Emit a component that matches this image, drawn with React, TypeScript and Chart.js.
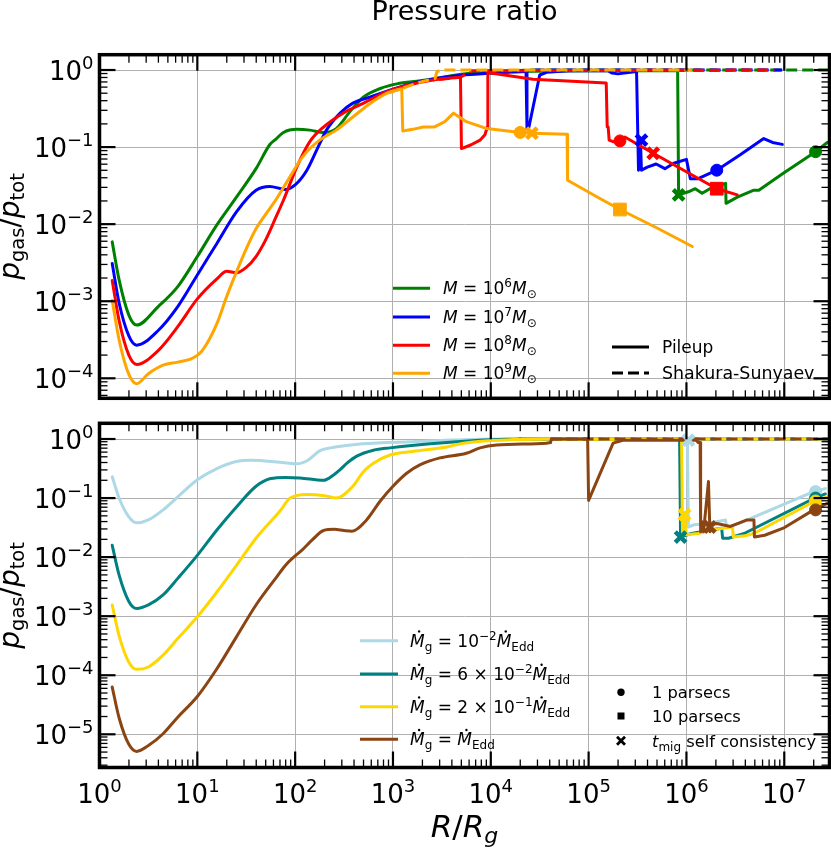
import { useEffect, useRef } from "react"
import { Chart, registerables } from "chart.js"

Chart.register(...registerables)

// every point is [log10(R/Rg), log10(pgas/ptot)]
type Pt = [number, number]

const xTickExp = [0, 1, 2, 3, 4, 5, 6, 7]
const topTickExp = [-4, -3, -2, -1, 0]
const bottomTickExp = [-5, -4, -3, -2, -1, 0]

const massExp = ["6", "7", "8", "9"]
const accretionCoef = ["", "6", "2", ""]
const accretionExp = ["−2", "−2", "−1", ""]
const styleLabels = ["Pileup", "Shakura-Sunyaev"]
const markerLabels = ["1 parsecs", "10 parsecs", " self consistency"]

// ---- top panel: M = 1e6 .. 1e9 Msun ----
const m6Inner: Pt[] = [[0.13, -2.23], [0.2, -2.72], [0.3, -3.18], [0.38, -3.31], [0.6, -3.07], [0.8, -2.81], [1.0, -2.42], [1.2, -2.01], [1.4, -1.65], [1.6, -1.28], [1.74, -0.97], [1.8, -0.9], [1.88, -0.81], [2.02, -0.77], [2.15, -0.78], [2.29, -0.81], [2.42, -0.76], [2.56, -0.54], [2.7, -0.35], [2.87, -0.24], [3.04, -0.18], [3.28, -0.14], [3.75, -0.05], [4.2, -0.02]]
const m6Outer: Pt[] = [[4.2, -0.02], [5.0, -0.01], [5.91, -0.01], [5.92, -1.62], [6.02, -1.58], [6.09, -1.54], [6.16, -1.6], [6.24, -1.54], [6.4, -1.47], [6.405, -1.73], [6.52, -1.65], [6.69, -1.56], [6.74, -1.56], [6.99, -1.34], [7.32, -1.06], [7.44, -0.94]]
const m6SS: Pt[] = [[3.75, -0.05], [4.2, -0.01], [4.4, 0], [7.46, 0]]
const m6Circle: Pt[] = [[7.32, -1.06]]
const m6Cross: Pt[] = [[5.92, -1.62]]

const m7Inner: Pt[] = [[0.13, -2.51], [0.2, -3.02], [0.3, -3.45], [0.38, -3.57], [0.6, -3.38], [0.8, -3.07], [1.0, -2.66], [1.2, -2.25], [1.4, -1.84], [1.6, -1.56], [1.74, -1.51], [1.9, -1.55], [2.0, -1.49], [2.12, -1.3], [2.22, -1.04], [2.32, -0.78], [2.46, -0.56], [2.59, -0.43], [2.77, -0.35], [3.0, -0.25], [3.28, -0.15], [3.6, -0.08], [4.0, -0.04], [4.36, -0.02]]
const m7Outer: Pt[] = [[4.36, -0.02], [4.37, -0.76], [4.39, -0.74], [4.5, -0.065], [4.57, -0.03], [4.8, -0.01], [5.2, -0.01], [5.24, -0.04], [5.3, -0.05], [5.49, -0.02], [5.51, -1.3], [5.53, -0.92], [5.54, -1.3], [5.6, -1.26], [5.69, -1.22], [5.78, -1.28], [5.87, -1.21], [6.0, -1.16], [6.04, -1.41], [6.12, -1.41], [6.31, -1.3], [6.55, -1.1], [6.79, -0.89], [6.88, -0.94], [6.98, -0.965]]
const m7SS: Pt[] = [[4.0, -0.04], [4.3, -0.01], [4.5, 0], [6.98, 0]]
const m7Circle: Pt[] = [[6.31, -1.3]]
const m7Cross: Pt[] = [[5.54, -0.91]]

const m8Inner: Pt[] = [[0.13, -2.73], [0.2, -3.25], [0.3, -3.7], [0.38, -3.82], [0.6, -3.64], [0.8, -3.33], [1.0, -2.97], [1.2, -2.71], [1.3, -2.61], [1.4, -2.63], [1.5, -2.56], [1.6, -2.42], [1.7, -2.2], [1.8, -1.92], [1.88, -1.69], [2.02, -1.25], [2.15, -0.93], [2.29, -0.74], [2.49, -0.56], [2.7, -0.43], [2.9, -0.3], [3.11, -0.21], [3.41, -0.13], [3.69, -0.095]]
const m8Outer: Pt[] = [[3.69, -0.095], [3.7, -1.02], [3.8, -0.97], [3.89, -0.91], [3.94, -0.84], [3.965, -0.74], [3.97, -0.01], [4.0, -0.04], [4.43, -0.12], [5.18, -0.17], [5.19, -0.74], [5.2, -0.74], [5.21, -0.91], [5.25, -0.93], [5.32, -0.92], [5.37, -0.87], [5.66, -1.08], [6.31, -1.54], [6.52, -1.62]]
const m8SS: Pt[] = [[3.41, -0.13], [3.69, -0.095], [3.8, -0.01], [6.9, 0]]
const m8Circle: Pt[] = [[5.32, -0.92]]
const m8Square: Pt[] = [[6.31, -1.54]]
const m8Cross: Pt[] = [[5.66, -1.08]]

const m9Inner: Pt[] = [[0.13, -2.99], [0.2, -3.5], [0.3, -3.95], [0.38, -4.07], [0.5, -3.94], [0.65, -3.83], [0.8, -3.79], [0.95, -3.74], [1.05, -3.64], [1.2, -3.29], [1.3, -2.94], [1.4, -2.62], [1.5, -2.32], [1.6, -2.06], [1.7, -1.87], [1.81, -1.67], [1.95, -1.38], [2.08, -1.12], [2.25, -0.91], [2.42, -0.78], [2.59, -0.61], [2.77, -0.43], [2.94, -0.3], [3.07, -0.25], [3.09, -0.245]]
const m9Outer: Pt[] = [[3.09, -0.245], [3.1, -0.79], [3.2, -0.77], [3.31, -0.74], [3.42, -0.74], [3.53, -0.67], [3.62, -0.56], [3.75, -0.67], [3.96, -0.76], [4.3, -0.81], [4.42, -0.82], [4.78, -0.835], [4.785, -1.43], [5.12, -1.67], [5.32, -1.81], [5.7, -2.05], [6.06, -2.29]]
const m9SS: Pt[] = [[2.94, -0.3], [3.07, -0.25], [3.2, -0.19], [3.3, -0.15], [3.43, -0.11], [3.45, -0.02], [3.5, 0], [6.06, 0]]
const m9Circle: Pt[] = [[4.3, -0.81]]
const m9Square: Pt[] = [[5.32, -1.81]]
const m9Cross: Pt[] = [[4.42, -0.82]]

// ---- bottom panel: accretion rates ----
const a1Inner: Pt[] = [[0.13, -0.64], [0.2, -1.0], [0.3, -1.32], [0.38, -1.42], [0.5, -1.37], [0.65, -1.2], [0.8, -0.98], [1.0, -0.69], [1.2, -0.5], [1.4, -0.38], [1.55, -0.36], [1.845, -0.395], [2.02, -0.42], [2.13, -0.36], [2.25, -0.2], [2.36, -0.15], [2.69, -0.08], [3.2, -0.045], [3.89, -0.005], [4.3, 0]]
const a1Outer: Pt[] = [[4.3, 0], [6.01, 0], [6.02, -1.49], [6.08, -1.45], [6.21, -1.43], [6.4, -1.37], [6.41, -1.5], [6.55, -1.42], [7.3, -0.89], [7.42, -0.84]]
const a1Circle: Pt[] = [[7.32, -0.89]]
const a1Cross: Pt[] = [[6.02, -0.02]]

const a2Inner: Pt[] = [[0.13, -1.8], [0.2, -2.3], [0.3, -2.75], [0.38, -2.87], [0.5, -2.81], [0.65, -2.64], [0.8, -2.36], [1.0, -1.97], [1.2, -1.54], [1.4, -1.15], [1.6, -0.8], [1.75, -0.67], [1.9, -0.65], [2.05, -0.66], [2.29, -0.7], [2.4, -0.6], [2.46, -0.52], [2.53, -0.41], [2.63, -0.29], [2.8, -0.19], [2.97, -0.15], [3.38, -0.08], [3.89, -0.02], [4.3, 0]]
const a2Outer: Pt[] = [[4.3, 0], [5.93, -0.01], [5.94, -1.66], [6.05, -1.6], [6.15, -1.57], [6.24, -1.54], [6.36, -1.51], [6.37, -1.68], [6.43, -1.68], [6.59, -1.6], [7.3, -1.01], [7.42, -0.93]]
const a2Circle: Pt[] = [[7.32, -1.0]]
const a2Cross: Pt[] = [[5.94, -1.66]]

const a3Inner: Pt[] = [[0.13, -2.81], [0.2, -3.33], [0.3, -3.78], [0.38, -3.9], [0.5, -3.86], [0.65, -3.66], [0.8, -3.38], [1.0, -3.01], [1.2, -2.59], [1.4, -2.14], [1.6, -1.68], [1.845, -1.22], [1.95, -1.0], [2.12, -0.94], [2.3, -0.96], [2.42, -1.0], [2.59, -0.8], [2.7, -0.55], [2.8, -0.41], [2.97, -0.27], [3.2, -0.21], [3.55, -0.135], [3.72, -0.07], [4.23, -0.01], [4.6, 0]]
const a3Outer: Pt[] = [[4.6, 0], [5.95, -0.01], [5.96, -1.62], [5.98, -1.28], [6.0, -1.62], [6.12, -1.6], [6.24, -1.54], [6.47, -1.49], [6.48, -1.66], [6.6, -1.64], [6.69, -1.6], [7.3, -1.06], [7.44, -0.98]]
const a3Circle: Pt[] = [[7.32, -1.05]]
const a3Cross: Pt[] = [[5.98, -1.28]]

const a4Inner: Pt[] = [[0.13, -4.2], [0.2, -4.72], [0.3, -5.17], [0.38, -5.29], [0.5, -5.19], [0.65, -4.99], [0.8, -4.71], [1.0, -4.36], [1.2, -3.89], [1.4, -3.35], [1.6, -2.81], [1.8, -2.36], [1.9, -2.14], [2.0, -1.98], [2.07, -1.88], [2.18, -1.7], [2.29, -1.55], [2.4, -1.53], [2.5, -1.55], [2.58, -1.56], [2.73, -1.37], [2.87, -1.05], [3.0, -0.8], [3.14, -0.58], [3.28, -0.435], [3.48, -0.32], [3.75, -0.24], [3.89, -0.15], [4.06, -0.1], [4.57, -0.07], [4.61, -0.06]]
const a4Outer: Pt[] = [[4.61, -0.06], [4.62, 0], [4.99, 0], [5.0, -1.04], [5.25, -0.07], [5.35, -0.02], [6.1, -0.02], [6.12, -0.06], [6.14, -0.06], [6.145, -1.57], [6.16, -1.4], [6.175, -1.57], [6.225, -0.72], [6.24, -1.57], [6.26, -1.45], [6.31, -1.43], [6.45, -1.48], [6.62, -1.37], [6.69, -1.37], [6.695, -1.66], [6.8, -1.63], [6.99, -1.51], [7.3, -1.2], [7.44, -1.09]]
const a4Circle: Pt[] = [[7.32, -1.2]]
const a4Cross: Pt[] = [[6.24, -1.49]]

const ssBottom: Pt[] = [[4.6, 0], [7.46, 0]]

const X_MIN = 1
const X_MAX = 2.9e7
const FONT = '"DejaVu Sans", sans-serif'
const GRID = "#b0b0b0"

interface Series {
  color: string
  inner: Pt[]
  outer: Pt[]
  ss: Pt[]
  circle: Pt[]
  square: Pt[]
  cross: Pt[]
}

const massSeries: Series[] = [
  { color: "#008000", inner: m6Inner, outer: m6Outer, ss: m6SS, circle: m6Circle, square: [], cross: m6Cross },
  { color: "#0000ff", inner: m7Inner, outer: m7Outer, ss: m7SS, circle: m7Circle, square: [], cross: m7Cross },
  { color: "#ff0000", inner: m8Inner, outer: m8Outer, ss: m8SS, circle: m8Circle, square: m8Square, cross: m8Cross },
  { color: "#ffa500", inner: m9Inner, outer: m9Outer, ss: m9SS, circle: m9Circle, square: m9Square, cross: m9Cross },
]

const rateSeries: Series[] = [
  { color: "#add8e6", inner: a1Inner, outer: a1Outer, ss: ssBottom, circle: a1Circle, square: [], cross: a1Cross },
  { color: "#008080", inner: a2Inner, outer: a2Outer, ss: ssBottom, circle: a2Circle, square: [], cross: a2Cross },
  { color: "#ffd700", inner: a3Inner, outer: a3Outer, ss: ssBottom, circle: a3Circle, square: [], cross: a3Cross },
  { color: "#8b4513", inner: a4Inner, outer: a4Outer, ss: ssBottom, circle: a4Circle, square: [], cross: a4Cross },
]

const toXY = (pts: Pt[]) => pts.map(([lr, lp]) => ({ x: 10 ** lr, y: 10 ** lp }))

function buildDatasets(series: Series[]) {
  const lines: any[] = []
  const marks: any[] = []
  series.forEach((s, i) => {
    const base = {
      borderColor: s.color,
      backgroundColor: s.color,
      borderWidth: 3,
      pointRadius: 0,
      fill: false,
      borderJoinStyle: "round",
      borderCapStyle: "round",
    }
    lines.push({ ...base, data: toXY(s.inner), cubicInterpolationMode: "monotone" })
    lines.push({ ...base, data: toXY(s.outer), tension: 0 })
    lines.push({ ...base, data: toXY(s.ss), tension: 0, borderCapStyle: "butt", borderDash: [11, 5], borderDashOffset: i * 5 })
    const mark = (pts: Pt[], style: string, r: number) => ({
      data: toXY(pts),
      showLine: false,
      pointStyle: style,
      pointRadius: r,
      pointBorderWidth: style === "crossRot" ? 4.5 : 1,
      pointBackgroundColor: s.color,
      pointBorderColor: s.color,
      borderColor: s.color,
      backgroundColor: s.color,
    })
    marks.push(mark(s.circle, "circle", 6), mark(s.square, "rect", 9), mark(s.cross, "crossRot", 7.5))
  })
  // later datasets on top, like matplotlib
  return [...lines, ...marks].map((d, i) => ({ ...d, order: -i }))
}

type Run = { t: string; s: number; it?: boolean; dy?: number; dot?: boolean }
const fontOf = (r: Run) => `${r.it ? "italic " : ""}${r.s}px ${FONT}`

function drawRuns(ctx: CanvasRenderingContext2D, runs: Run[], x: number, y: number, align: "left" | "center" | "right" = "left") {
  const w = runs.map((r) => {
    ctx.font = fontOf(r)
    return ctx.measureText(r.t).width
  })
  const total = w.reduce((a, b) => a + b, 0)
  let cx = align === "left" ? x : align === "center" ? x - total / 2 : x - total
  ctx.textAlign = "left"
  ctx.textBaseline = "alphabetic"
  runs.forEach((r, i) => {
    ctx.font = fontOf(r)
    const by = y + (r.dy ?? 0)
    ctx.fillText(r.t, cx, by)
    if (r.dot) {
      ctx.beginPath()
      ctx.arc(cx + w[i] * 0.62, by - r.s * 0.9, r.s * 0.07, 0, Math.PI * 2)
      ctx.fill()
    }
    cx += w[i]
  })
}

const pow10 = (e: number, s = 26): Run[] => [
  { t: "10", s },
  { t: e < 0 ? "−" + -e : String(e), s: Math.round(s * 0.69), dy: -s * 0.42 },
]

const LS = 17 // legend font size
const SUB = 12

interface Panel {
  top: number
  height: number
  areaTop: number
  areaBottom: number
  yMin: number
  yMax: number
  yTicks: number[]
  series: Series[]
  extra: (ctx: CanvasRenderingContext2D, off: number, chart: Chart) => void
}

function minorValues(min: number, max: number) {
  const out: number[] = []
  for (let d = Math.floor(Math.log10(min)); d <= Math.ceil(Math.log10(max)); d++) {
    for (let k = 2; k <= 9; k++) {
      const v = k * 10 ** d
      if (v > min && v < max) out.push(v)
    }
  }
  return out
}

function framePlugin(p: Panel) {
  return {
    id: "frame",
    afterDraw(chart: Chart) {
      const { ctx, chartArea: a } = chart
      const xs = chart.scales.x
      const ys = chart.scales.y
      ctx.save()
      ctx.strokeStyle = "#000"
      ctx.fillStyle = "#000"
      const seg = (x1: number, y1: number, x2: number, y2: number) => {
        ctx.beginPath()
        ctx.moveTo(x1, y1)
        ctx.lineTo(x2, y2)
        ctx.stroke()
      }
      // minor ticks, pointing in on all four sides
      ctx.lineWidth = 1.3
      for (const v of minorValues(X_MIN, X_MAX)) {
        const px = xs.getPixelForValue(v)
        seg(px, a.bottom, px, a.bottom - 8)
        seg(px, a.top, px, a.top + 8)
      }
      for (const v of minorValues(p.yMin, p.yMax)) {
        const py = ys.getPixelForValue(v)
        seg(a.left, py, a.left + 8, py)
        seg(a.right, py, a.right - 8, py)
      }
      ctx.lineWidth = 2.2
      for (const e of xTickExp) {
        const px = xs.getPixelForValue(10 ** e)
        seg(px, a.bottom, px, a.bottom - 16)
        seg(px, a.top, px, a.top + 16)
      }
      for (const e of p.yTicks) {
        const py = ys.getPixelForValue(10 ** e)
        seg(a.left, py, a.left + 16, py)
        seg(a.right, py, a.right - 16, py)
      }
      ctx.lineWidth = 3.5
      ctx.strokeRect(a.left, a.top, a.right - a.left, a.bottom - a.top)

      for (const e of p.yTicks) {
        drawRuns(ctx, pow10(e), a.left - 6, ys.getPixelForValue(10 ** e) + 10, "right")
      }
      // y axis label, rotated
      ctx.save()
      ctx.translate(19, (a.top + a.bottom) / 2)
      ctx.rotate(-Math.PI / 2)
      drawRuns(ctx, [
        { t: "p", s: 28, it: true },
        { t: "gas", s: 19.5, dy: 5 },
        { t: "/", s: 28 },
        { t: "p", s: 28, it: true },
        { t: "tot", s: 19.5, dy: 5 },
      ], 0, 0, "center")
      ctx.restore()
      p.extra(ctx, p.top, chart)
      ctx.restore()
    },
  }
}

function legendLine(ctx: CanvasRenderingContext2D, x1: number, x2: number, y: number, color: string, dash: number[] = []) {
  ctx.save()
  ctx.strokeStyle = color
  ctx.lineWidth = 3
  ctx.setLineDash(dash)
  ctx.beginPath()
  ctx.moveTo(x1, y)
  ctx.lineTo(x2, y)
  ctx.stroke()
  ctx.restore()
}

const topPanel: Panel = {
  top: 0,
  height: 411,
  areaTop: 54.7,
  areaBottom: 398.3,
  yMin: 5.5e-5,
  yMax: 1.58,
  yTicks: topTickExp,
  series: massSeries,
  extra(ctx, off) {
    ctx.font = `27px ${FONT}`
    ctx.textAlign = "center"
    ctx.fillText("Pressure ratio", 464.5, 20 - off)
    const rows = [288.3, 317, 345.3, 373.3]
    massSeries.forEach((s, i) => {
      const y = rows[i] - off
      legendLine(ctx, 393, 430, y, s.color)
      drawRuns(ctx, [
        { t: "M", s: LS, it: true },
        { t: " = ", s: LS },
        { t: "10", s: LS },
        { t: massExp[i], s: SUB, dy: -7 },
        { t: "M", s: LS, it: true },
        { t: "⊙", s: SUB, dy: 4 },
      ], 443, y + 6)
    })
    legendLine(ctx, 612, 649, 347 - off, "#000")
    legendLine(ctx, 612, 649, 373 - off, "#000", [11, 5])
    drawRuns(ctx, [{ t: styleLabels[0], s: LS }], 662, 353 - off)
    drawRuns(ctx, [{ t: styleLabels[1], s: 17.4 }], 662, 379 - off)
  },
}

const bottomPanel: Panel = {
  top: 411,
  height: 438,
  areaTop: 423.3,
  areaBottom: 767.5,
  yMin: 2.74e-6,
  yMax: 1.845,
  yTicks: bottomTickExp,
  series: rateSeries,
  extra(ctx, off, chart) {
    const xs = chart.scales.x
    for (const e of xTickExp) {
      drawRuns(ctx, pow10(e), xs.getPixelForValue(10 ** e), 803 - off, "center")
    }
    drawRuns(ctx, [
      { t: "R", s: 31, it: true },
      { t: "/", s: 31 },
      { t: "R", s: 31, it: true },
      { t: "g", s: 22, it: true, dy: 6 },
    ], 464.5, 837 - off, "center")

    const rows = [640.7, 674, 706.7, 739.3]
    rateSeries.forEach((s, i) => {
      const y = rows[i] - off
      legendLine(ctx, 360, 398, y, s.color)
      const runs: Run[] = [
        { t: "M", s: LS, it: true, dot: true },
        { t: "g", s: SUB, dy: 4 },
        { t: " = ", s: LS },
      ]
      if (accretionCoef[i]) runs.push({ t: accretionCoef[i] + " × ", s: LS })
      if (accretionExp[i]) runs.push({ t: "10", s: LS }, { t: accretionExp[i], s: SUB, dy: -7 })
      runs.push({ t: "M", s: LS, it: true, dot: true }, { t: "Edd", s: SUB, dy: 4 })
      drawRuns(ctx, runs, 410, y + 6)
    })

    const ML = 16.3
    const mrows = [692.3, 716, 740.7].map((v) => v - off)
    ctx.beginPath()
    ctx.arc(621, mrows[0], 3.7, 0, Math.PI * 2)
    ctx.fill()
    ctx.fillRect(617.5, mrows[1] - 3.5, 7, 7)
    ctx.lineWidth = 2.8
    ctx.beginPath()
    ctx.moveTo(617, mrows[2] - 4)
    ctx.lineTo(625, mrows[2] + 4)
    ctx.moveTo(625, mrows[2] - 4)
    ctx.lineTo(617, mrows[2] + 4)
    ctx.stroke()
    drawRuns(ctx, [{ t: markerLabels[0], s: ML }], 652, mrows[0] + 6)
    drawRuns(ctx, [{ t: markerLabels[1], s: ML }], 652, mrows[1] + 6)
    drawRuns(ctx, [
      { t: "t", s: ML, it: true },
      { t: "mig", s: SUB, dy: 4 },
      { t: markerLabels[2], s: ML },
    ], 652, mrows[2] + 6)
  },
}

function makeChart(canvas: HTMLCanvasElement, p: Panel) {
  const decadeTicks = (exps: number[]) => (scale: any) => {
    scale.ticks = exps.map((e) => ({ value: 10 ** e }))
  }
  return new Chart(canvas, {
    type: "line",
    data: { datasets: buildDatasets(p.series) as any },
    options: {
      animation: false,
      responsive: true,
      maintainAspectRatio: false,
      events: [],
      layout: {
        autoPadding: false,
        padding: {
          left: 99.5,
          right: 1.5,
          top: p.areaTop - p.top,
          bottom: p.top + p.height - p.areaBottom,
        },
      },
      plugins: {
        legend: { display: false },
        tooltip: { enabled: false },
        title: { display: false },
      },
      scales: {
        x: {
          type: "logarithmic",
          min: X_MIN,
          max: X_MAX,
          afterBuildTicks: decadeTicks(xTickExp),
          ticks: { display: false },
          grid: { color: GRID, lineWidth: 1, drawTicks: false },
          border: { display: false },
        },
        y: {
          type: "logarithmic",
          min: p.yMin,
          max: p.yMax,
          afterBuildTicks: decadeTicks(p.yTicks),
          ticks: { display: false },
          grid: { color: GRID, lineWidth: 1, drawTicks: false },
          border: { display: false },
        },
      },
    },
    plugins: [framePlugin(p)],
  })
}

export default function App() {
  const topRef = useRef<HTMLCanvasElement>(null)
  const bottomRef = useRef<HTMLCanvasElement>(null)

  useEffect(() => {
    if (!topRef.current || !bottomRef.current) return
    const charts = [makeChart(topRef.current, topPanel), makeChart(bottomRef.current, bottomPanel)]
    return () => charts.forEach((c) => c.destroy())
  }, [])

  return (
    <div style={{ position: "absolute", left: 0, top: 0, width: 831, height: 849, background: "#fff" }}>
      <div style={{ position: "absolute", left: 0, top: 0, width: 831, height: topPanel.height }}>
        <canvas ref={topRef} />
      </div>
      <div style={{ position: "absolute", left: 0, top: bottomPanel.top, width: 831, height: bottomPanel.height }}>
        <canvas ref={bottomRef} />
      </div>
    </div>
  )
}
